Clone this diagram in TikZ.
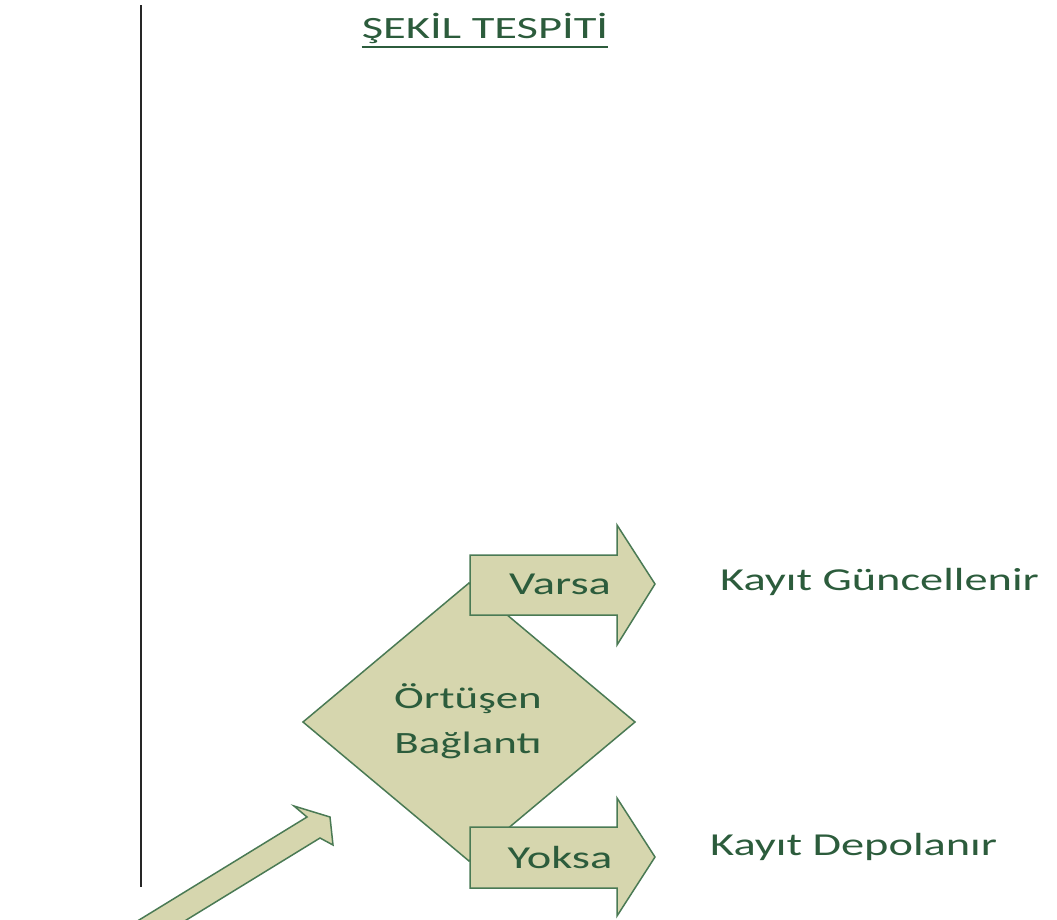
\documentclass[tikz,border=0pt]{standalone}
\usepackage{fontspec}
\setmainfont{Carlito}
\newfontfamily\widefont[FakeStretch=1.45]{Carlito}
\newfontfamily\titlefont[FakeStretch=1.5]{Carlito}
\definecolor{khaki}{RGB}{214,214,174}
\definecolor{edgegreen}{RGB}{74,122,84}
\definecolor{txtgreen}{RGB}{44,92,60}
\tikzset{
  shapebox/.style={fill=khaki, draw=edgegreen, line width=1.5pt, line join=miter},
  lbl/.style={text=txtgreen, font=\widefont\fontsize{32}{32}\selectfont, inner sep=0pt, anchor=base},
}
\begin{document}
\begin{tikzpicture}[x=1pt,y=-1pt]
\useasboundingbox (0,0) rectangle (1057,919);
\clip (0,0) rectangle (1057,919);
% vertical line
\coordinate (vtop) at (141,5);
\coordinate (vbot) at (141,887);
\draw[line width=2.5pt, black!85] (vtop) -- (vbot);
% title
\node[lbl, font=\titlefont\fontsize{31}{31}\selectfont] (title) at (485,38) {ŞEKİL TESPİTİ};
\draw[txtgreen, line width=2.2pt] ([yshift=-9pt]title.base west) -- ([yshift=-9pt]title.base east);
% diamond
\path[shapebox] (303,722) -- (469,583) -- (635,722) -- (469,861) -- cycle;
\node[lbl, font=\widefont\fontsize{31}{31}\selectfont] (q1) at (468,708) {Örtüşen};
\node[lbl, font=\widefont\fontsize{31}{31}\selectfont] (q2) at (468,753) {Bağlantı};
% Varsa arrow
\path[shapebox] (470,555) -- (617,555) -- (617,525) -- (655,584) -- (617,645) -- (617,615) -- (470,615) -- cycle;
\node[lbl] (varsa) at (560,594) {Varsa};
% Yoksa arrow
\path[shapebox] (470,827) -- (617,827) -- (617,798) -- (655,857) -- (617,916) -- (617,888) -- (470,888) -- cycle;
\node[lbl] (yoksa) at (560,868) {Yoksa};
% outcomes
\node[lbl, anchor=base west] (upd) at (720,590) {Kayıt Güncellenir};
\node[lbl, anchor=base west] (dep) at (710,855) {Kayıt Depolanır};
% incoming arrow
\path[shapebox] (51,974) -- (307,817) -- (294,806) -- (330,817) -- (333,845) -- (320,838) -- (64,995) -- cycle;
\end{tikzpicture}
\end{document}
